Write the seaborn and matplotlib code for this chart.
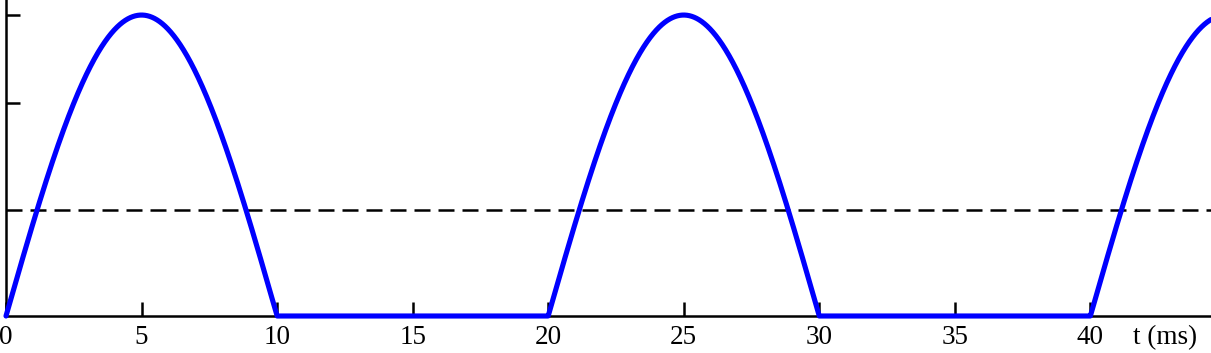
import numpy as np
import pandas as pd
import matplotlib
matplotlib.use("Agg")
import matplotlib.pyplot as plt
import seaborn as sns

# Chart parameters
period_ms = 20.0          # full period of the rectified wave
peak_value = 1.0          # amplitude of the half-wave
average_level = 0.352     # dashed horizontal level
y_tick_values = [0.708, 1.0]
x_tick_values = [0, 5, 10, 15, 20, 25, 30, 35, 40]
x_tick_labels = ["0", "5", "10", "15", "20", "25", "30", "35", "40"]
x_max = 44.45
y_max = 1.05
x_label = "t (ms)"

# Half-wave rectified sine (a mathematical function plot)
t = np.linspace(0, x_max, 4000)
v = np.maximum(0.0, peak_value * np.sin(2 * np.pi * t / period_ms))
df = pd.DataFrame({"t": t, "v": v})

sns.set_theme(style="white")
plt.rcParams["font.family"] = ["Liberation Serif", "DejaVu Serif"]

fig = plt.figure(figsize=(12.11, 3.53), dpi=100)
ax = fig.add_axes([6 / 1211, 37 / 353, 1 - 6 / 1211, 1 - 37 / 353])

sns.lineplot(data=df, x="t", y="v", ax=ax, color="#0000ff", linewidth=3.7,
             zorder=5, clip_on=False, solid_capstyle="round")
ax.axhline(average_level, color="black", linewidth=1.8,
           dashes=(6.4, 3.2), zorder=3)

ax.set_xlim(0, x_max)
ax.set_ylim(0, y_max)
ax.set_xticks(x_tick_values)
ax.set_xticklabels(x_tick_labels)
ax.set_yticks(y_tick_values)
ax.set_yticklabels([])
ax.set_xlabel("")
ax.set_ylabel("")

for side in ["top", "right"]:
    ax.spines[side].set_visible(False)
for side in ["left", "bottom"]:
    ax.spines[side].set_color("black")
    ax.spines[side].set_linewidth(1.8)
    ax.spines[side].set_zorder(2)

ax.tick_params(axis="x", direction="in", length=10, width=1.8, color="black",
               labelsize=19.5, labelcolor="black", pad=6.5, bottom=True)
ax.tick_params(axis="y", direction="in", length=10, width=1.8, color="black",
               left=True)
ax.set_facecolor("white")
ax.grid(False)

ax.annotate(x_label, xy=(42.77, 0), xycoords=ax.get_xaxis_transform(),
            xytext=(0, -6.5), textcoords="offset points", ha="center", va="top",
            fontsize=19.5, color="black")

fig.savefig("out.png", dpi=100, facecolor="white")
